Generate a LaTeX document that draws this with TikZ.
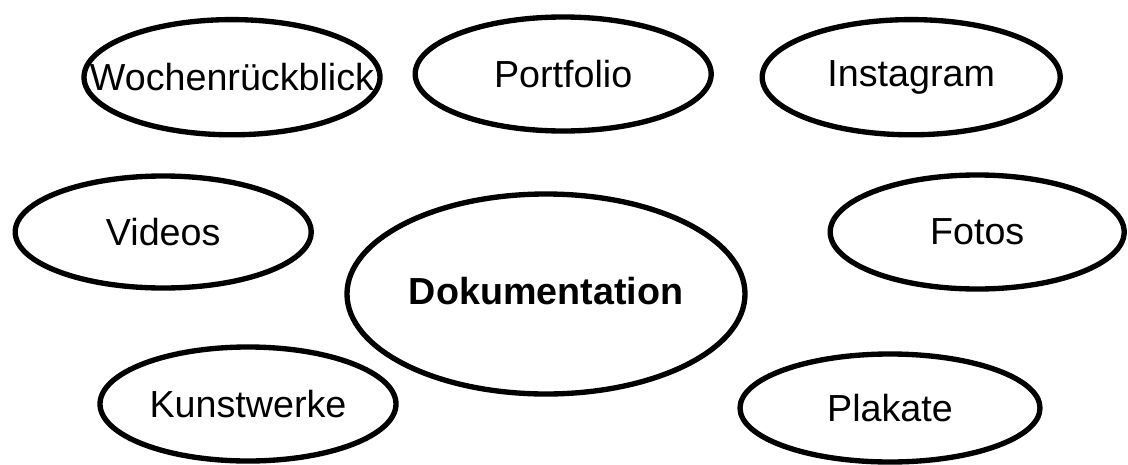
\documentclass[tikz,border=0pt]{standalone}
\usepackage{fontspec}
\setmainfont{Liberation Sans}
\usetikzlibrary{shapes.geometric}

\begin{document}
\begin{tikzpicture}[line width = 3.8pt, font = \fontsize{26.8}{32}\selectfont, every node/.style = { ellipse, draw, inner sep = 0pt }]
  \useasboundingbox (0, 0) rectangle (28.2, -11.6);

  \node [minimum width = 9.95cm, minimum height = 5cm] (dokumentation) at (13.65, -7.35) {\raisebox{0.17cm}{\bfseries Dokumentation}};
  \node [minimum width = 7.4cm, minimum height = 2.88cm] (wochenrueckblick) at (5.8, -1.93) {\makebox[0pt]{Wochenrückblick}};
  \node [minimum width = 7.4cm, minimum height = 2.85cm] (portfolio) at (14.08, -1.85) {Portfolio};
  \node [minimum width = 7.45cm, minimum height = 2.88cm] (instagram) at (22.78, -1.93) {Instagram};
  \node [minimum width = 7.4cm, minimum height = 2.8cm] (videos) at (4.08, -5.8) {Videos};
  \node [minimum width = 7.35cm, minimum height = 2.85cm] (fotos) at (24.43, -5.8) {Fotos};
  \node [minimum width = 7.4cm, minimum height = 2.85cm] (kunstwerke) at (6.2, -10.1) {Kunstwerke};
  \node [minimum width = 7.5cm, minimum height = 2.7cm] (plakate) at (22.25, -10.2) {Plakate};
\end{tikzpicture}
\end{document}
